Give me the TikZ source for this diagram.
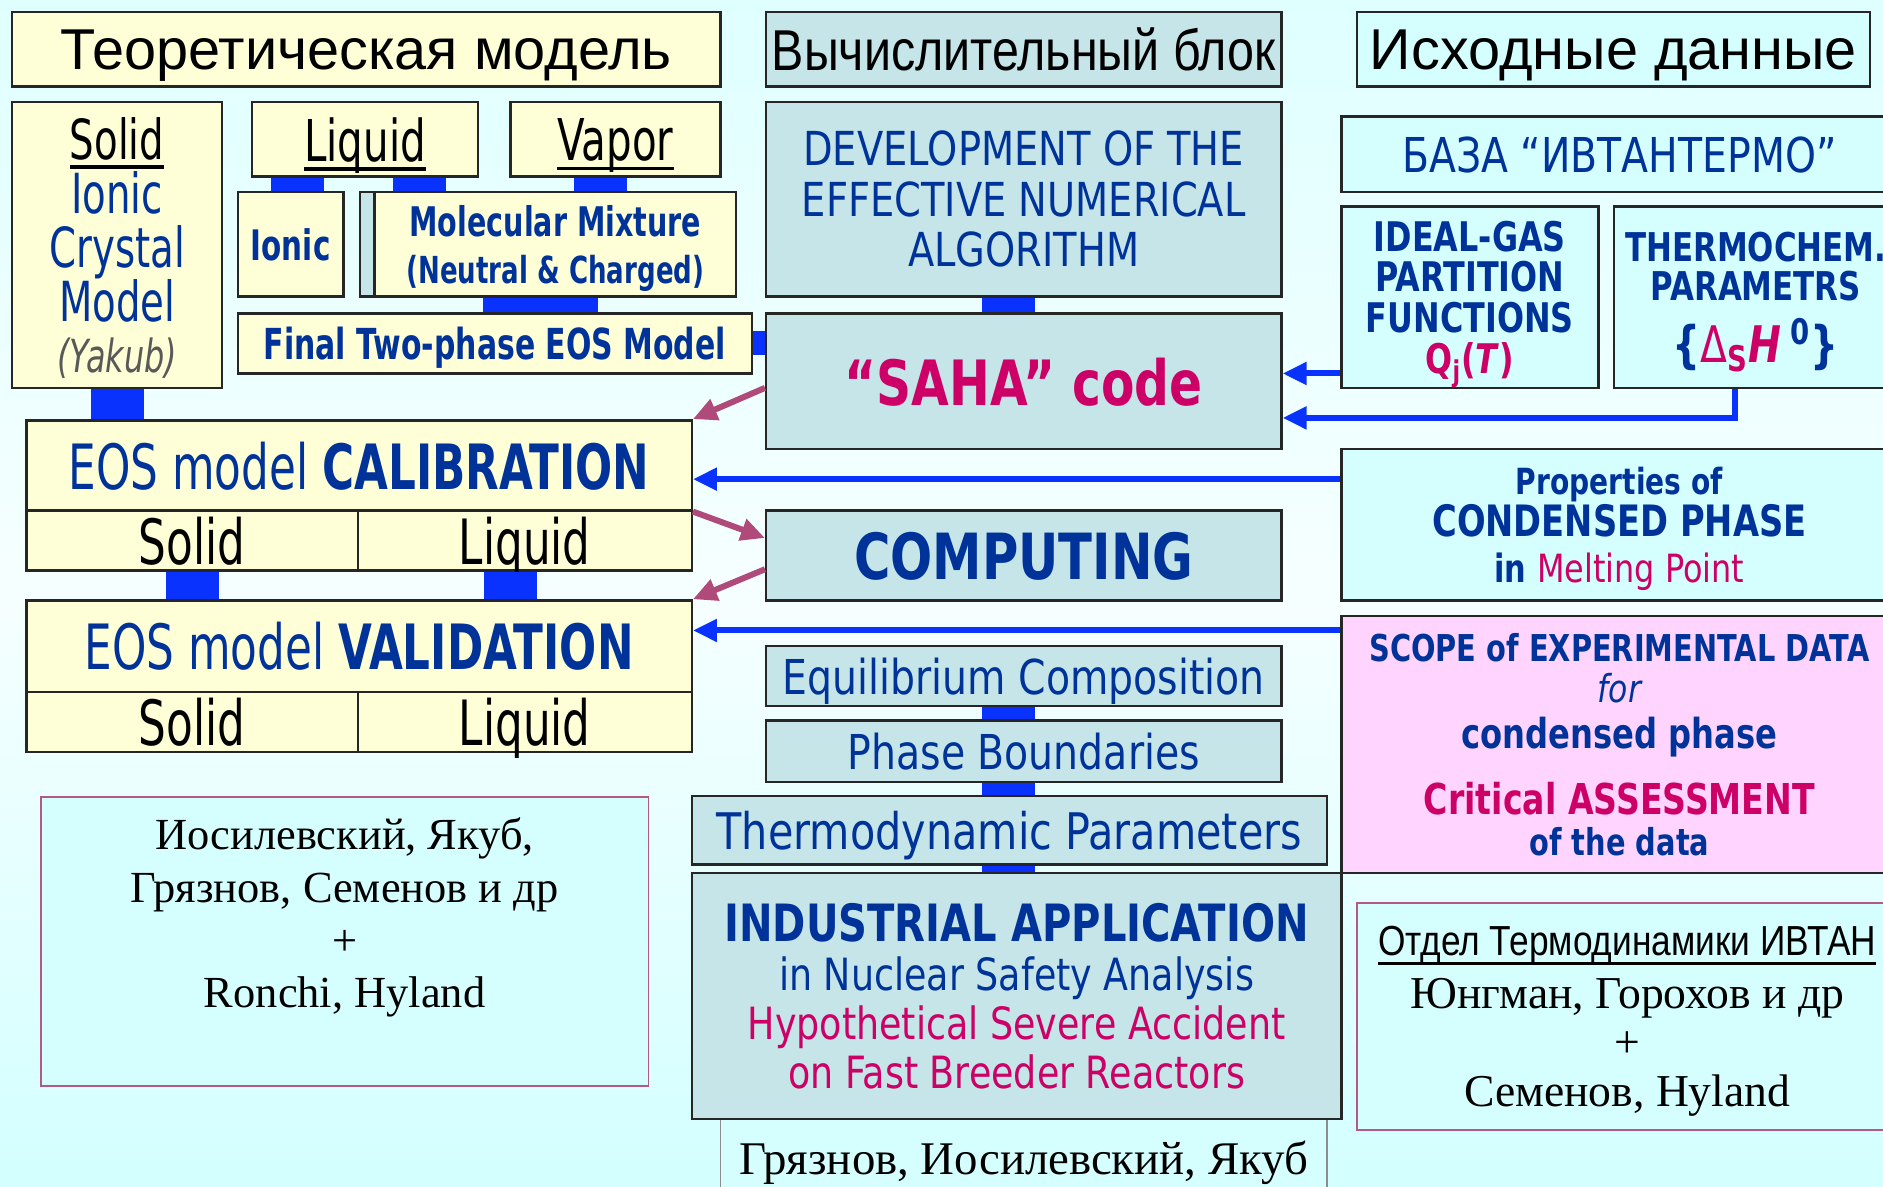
\documentclass[tikz,border=0pt]{standalone}
\usepackage{fontspec}
\setmainfont{Liberation Serif}
\newfontfamily\tah[FakeStretch=0.82]{DejaVu Sans}
\newfontfamily\tahb[FakeStretch=0.78]{DejaVu Sans}
\newfontfamily\tahn[FakeStretch=0.7]{DejaVu Sans}
\newfontfamily\ari{Liberation Sans}
\newfontfamily\arin[FakeStretch=0.84]{Liberation Sans}
\usetikzlibrary{arrows.meta}
\definecolor{eosblue}{HTML}{003399}
\definecolor{eosred}{HTML}{CC0066}
\definecolor{barblue}{HTML}{0A32FF}
\definecolor{iterred}{HTML}{B04A7A}
\definecolor{theofill}{HTML}{FFFFD7}
\definecolor{calcfill}{HTML}{C5E5E8}
\definecolor{srcfill}{HTML}{D5FFFF}
\definecolor{pinkfill}{HTML}{FFD5FF}
\definecolor{authframe}{HTML}{B45A82}
\definecolor{bgtop}{HTML}{DFFFFF}
\definecolor{bgmid}{HTML}{F6FFFF}
\definecolor{bgbot}{HTML}{D3FFFF}
\newcommand{\fsz}[2]{\fontsize{#1}{#2}\selectfont}
\newcommand{\undl}[1]{\leavevmode\setbox0=\hbox{#1}\rlap{\rule[-4pt]{\wd0}{1.4pt}}\box0}
\tikzset{place/.style n args={4}{at={({(#1+#3)/2},{(#2+#4)/2})},
    minimum width={(#3-#1)*0.5pt}, minimum height={(#4-#2)*0.5pt}}}
\tikzstyle{cell}=[draw=black!85, line width=1pt, inner sep=0pt, align=center]
\tikzstyle{oneline}=[text depth=0pt]
\tikzstyle{theobox}=[cell, fill=theofill]
\tikzstyle{calcbox}=[cell, fill=calcfill]
\tikzstyle{srcbox}=[cell, fill=srcfill]
\tikzstyle{authbox}=[cell, draw=authframe, line width=0.8pt, fill=srcfill]
\tikzstyle{joint}=[draw=barblue, line width=22pt]
\tikzstyle{feed}=[draw=barblue, line width=2.5pt, -{Triangle[length=10pt,width=9pt]}]
\tikzstyle{iter}=[draw=iterred, line width=2.5pt, -{Triangle[length=10pt,width=9pt]}]

\begin{document}
\begin{tikzpicture}[x=0.5pt, y=-0.5pt]
  \useasboundingbox (0,0) rectangle (1568,988);
  \fill[top color=bgtop, bottom color=bgbot, middle color=bgmid] (0,0) rectangle (1568,988);

  % theoretical model
  \node[theobox, oneline, place={10}{10}{600}{72}, font=\ari\fsz{24}{24}] (theory) {Теоретическая модель};
  \node[theobox, text depth=-1.5pt, place={10}{85}{185}{323}, font=\tahn\fsz{23}{22.5}, text=eosblue] (solid)
    {{\color{black}\undl{Solid}}\\Ionic\\Crystal\\Model\\[-1pt]{\color{black!65}\fsz{19}{22.5}\itshape (Yakub)}};
  \node[theobox, oneline, place={210}{85}{398}{147}, font=\tahn\fsz{24}{24}] (liquid) {\undl{Liquid}};
  \node[theobox, oneline, place={425}{85}{600}{147}, font=\tahn\fsz{24}{24}] (vapor) {\undl{Vapor}};
  \node[theobox, oneline, place={198}{160}{286}{247}, font=\tahn\bfseries\fsz{17.5}{20}, text=eosblue] (ionic) {Ionic};
  \node[calcbox, place={300}{160}{330}{247}] (molshadow) {};
  \node[theobox, text depth=-3.5pt, place={312}{160}{613}{247}, font=\tahn\bfseries\fsz{17}{19.5}, text=eosblue] (mol)
    {Molecular Mixture\\{\fsz{15.5}{19.5}(Neutral \& Charged)}};
  \node[theobox, oneline, place={198}{261}{626}{311}, font=\tahn\bfseries\fsz{17.8}{20}, text=eosblue] (final) {Final Two-phase EOS Model};

  \node[theobox, oneline, place={22}{350}{576}{425}, font=\tahn\fsz{26}{26}, text=eosblue] (calib) {EOS model \textbf{CALIBRATION}};
  \node[theobox, oneline, place={22}{425}{298}{475}, font=\tahn\fsz{26}{26}] (calsolid) {Solid};
  \node[theobox, oneline, place={298}{425}{576}{475}, font=\tahn\fsz{26}{26}] (calliquid) {Liquid};
  \node[theobox, oneline, place={22}{500}{576}{576}, font=\tahn\fsz{26}{26}, text=eosblue] (valid) {EOS model \textbf{VALIDATION}};
  \node[theobox, oneline, place={22}{576}{298}{626}, font=\tahn\fsz{26}{26}] (valsolid) {Solid};
  \node[theobox, oneline, place={298}{576}{576}{626}, font=\tahn\fsz{26}{26}] (valliquid) {Liquid};

  \node[authbox, place={34}{664}{540}{904}] (authleft) {};
  \node[font=\fsz{18.5}{22}, align=center] (authlefttext) at ([yshift=10pt]authleft.center)
    {Иосилевский, Якуб,\\Грязнов, Семенов и др\\+\\Ronchi, Hyland};

  % computing block
  \node[calcbox, oneline, place={638}{10}{1067}{72}, font=\arin\fsz{24}{24}] (block) {Вычислительный блок};
  \node[calcbox, place={638}{85}{1067}{247}, font=\tah\fsz{19.5}{21}, text=eosblue] (devel)
    {DEVELOPMENT OF THE\\EFFECTIVE NUMERICAL\\ALGORITHM};
  \node[calcbox, oneline, place={638}{261}{1067}{374}, font=\tahb\bfseries\fsz{26}{26}, text=eosred] (saha) {“SAHA” code};
  \node[calcbox, oneline, place={638}{425}{1067}{500}, font=\tahb\bfseries\fsz{26.5}{26}, text=eosblue] (comp) {COMPUTING};
  \node[calcbox, oneline, place={638}{538}{1067}{588}, font=\tah\fsz{20}{20}, text=eosblue] (equil) {Equilibrium Composition};
  \node[calcbox, oneline, place={638}{600}{1067}{651}, font=\tah\fsz{20}{20}, text=eosblue] (phase) {Phase Boundaries};
  \node[calcbox, text depth=-5pt, place={576}{663}{1105}{720}, font=\tah\fsz{21}{21}, text=eosblue] (thermo) {Thermodynamic Parameters};
  \node[srcbox, oneline, draw=black!45, line width=0.6pt, place={600}{932}{1105}{996}, font=\fsz{19.5}{20}] (authmid)
    {Грязнов, Иосилевский, Якуб};
  \node[calcbox, place={576}{727}{1117}{932}, font=\tah\fsz{18.5}{20.5}, text=eosblue] (indust)
    {{\tahb\bfseries\fsz{21.4}{20.5}INDUSTRIAL APPLICATION}\\in Nuclear Safety Analysis\\
     {\color{eosred}Hypothetical Severe Accident}\\{\color{eosred}on Fast Breeder Reactors}};

  % source data
  \node[srcbox, oneline, place={1130}{10}{1557}{72}, font=\ari\fsz{24}{24}] (source) {Исходные данные};
  \node[srcbox, oneline, place={1117}{97}{1580}{160}, font=\tah\fsz{20}{20}, text=eosblue] (base) {БАЗА “ИВТАНТЕРМО”};
  \node[srcbox, text depth=-2pt, place={1117}{172}{1331}{323}, font=\tahb\bfseries\fsz{17}{17}, text=eosblue] (ideal)
    {IDEAL-GAS\\PARTITION\\FUNCTIONS\\{\color{eosred}Q\textsubscript{j}(\textit{T})}};
  \node[srcbox, oneline, place={1344}{172}{1580}{323}, font=\tahb\bfseries\fsz{16.5}{16.5}, text=eosblue] (thermoch)
    {THERMOCHEM.\\PARAMETRS\\[6pt]{\fsz{21}{21}\{\textcolor{eosred}{\mdseries Δ\textsubscript{\bfseries S}\bfseries\itshape H}\,\textsuperscript{0}\}}};
  \node[srcbox, oneline, place={1117}{374}{1580}{500}, font=\tahb\bfseries\fsz{15}{17.5}, text=eosblue] (prop)
    {Properties of\\{\fsz{18}{17.5}CONDENSED PHASE}\\[1.5pt]{\fsz{16.2}{17.5}in \textcolor{eosred}{\tah\mdseries Melting Point}}};
  \node[cell, fill=pinkfill, place={1117}{513}{1580}{727}, font=\tahb\bfseries\fsz{15.4}{17}, text=eosblue] (scope)
    {SCOPE of EXPERIMENTAL DATA\\{\tah\mdseries\itshape\fsz{16}{17}for}\\[2pt]{\fsz{17.2}{17}condensed phase}\\[9.5pt]
     {\color{eosred}\fsz{17.7}{17}Critical ASSESSMENT}\\of the data};
  \node[authbox, text depth=-2pt, place={1130}{752}{1580}{941}, font=\fsz{19}{20.5}] (dept)
    {{\arin\fsz{17.5}{20.5}\undl{Отдел Термодинамики ИВТАН}}\\[1.5pt]Юнгман, Горохов и др\\+\\Семенов, Hyland};

  % bars
  \draw[joint] ([xshift=-28pt]liquid.south) -- ([xshift=3pt]ionic.north);
  \draw[joint] ([xshift=22.5pt]liquid.south) -- ([xshift=-56.75pt]mol.north);
  \draw[joint] ([xshift=-6.25pt]vapor.south) -- ([xshift=18.75pt]mol.north);
  \draw[joint, line width=48pt] ([xshift=-6.25pt]mol.south) -- ([xshift=19pt]final.north);
  \draw[joint, line width=10pt] (final.east) -- ([yshift=15.75pt]saha.west);
  \draw[joint] (solid.south) -- ([xshift=-100.75pt]calib.north);
  \draw[joint] (calsolid.south) -- ([xshift=-69.5pt]valid.north);
  \draw[joint] ([xshift=-6pt]calliquid.south) -- ([xshift=63pt]valid.north);
  \draw[joint] ([xshift=-6.25pt]devel.south) -- ([xshift=-6.25pt]saha.north);
  \draw[joint] ([xshift=-6.25pt]equil.south) -- ([xshift=-6.25pt]phase.north);
  \draw[joint] ([xshift=-6.25pt]phase.south) -- ([xshift=-0.25pt]thermo.north);
  \draw[joint] ([xshift=-0.25pt]thermo.south) -- ([xshift=-3.25pt]indust.north);

  % arrows
  \draw[feed] ([yshift=-31.75pt]ideal.west) -- ([yshift=3.25pt]saha.east);
  \draw[feed] ([xshift=-8.5pt]thermoch.south) |- ([yshift=-15.25pt]saha.east);
  \draw[feed] ([yshift=19pt]prop.west) -- ([yshift=-5.75pt]calib.east);
  \draw[feed] ([yshift=47.5pt]scope.west) -- ([yshift=6.5pt]valid.east);
  \draw[iter] ([yshift=-2.75pt]saha.west) -- (calib.north east);
  \draw[iter] (calib.south east) -- ([yshift=7.25pt]comp.west);
  \draw[iter] ([yshift=-5.75pt]comp.west) -- (valid.north east);
\end{tikzpicture}
\end{document}
